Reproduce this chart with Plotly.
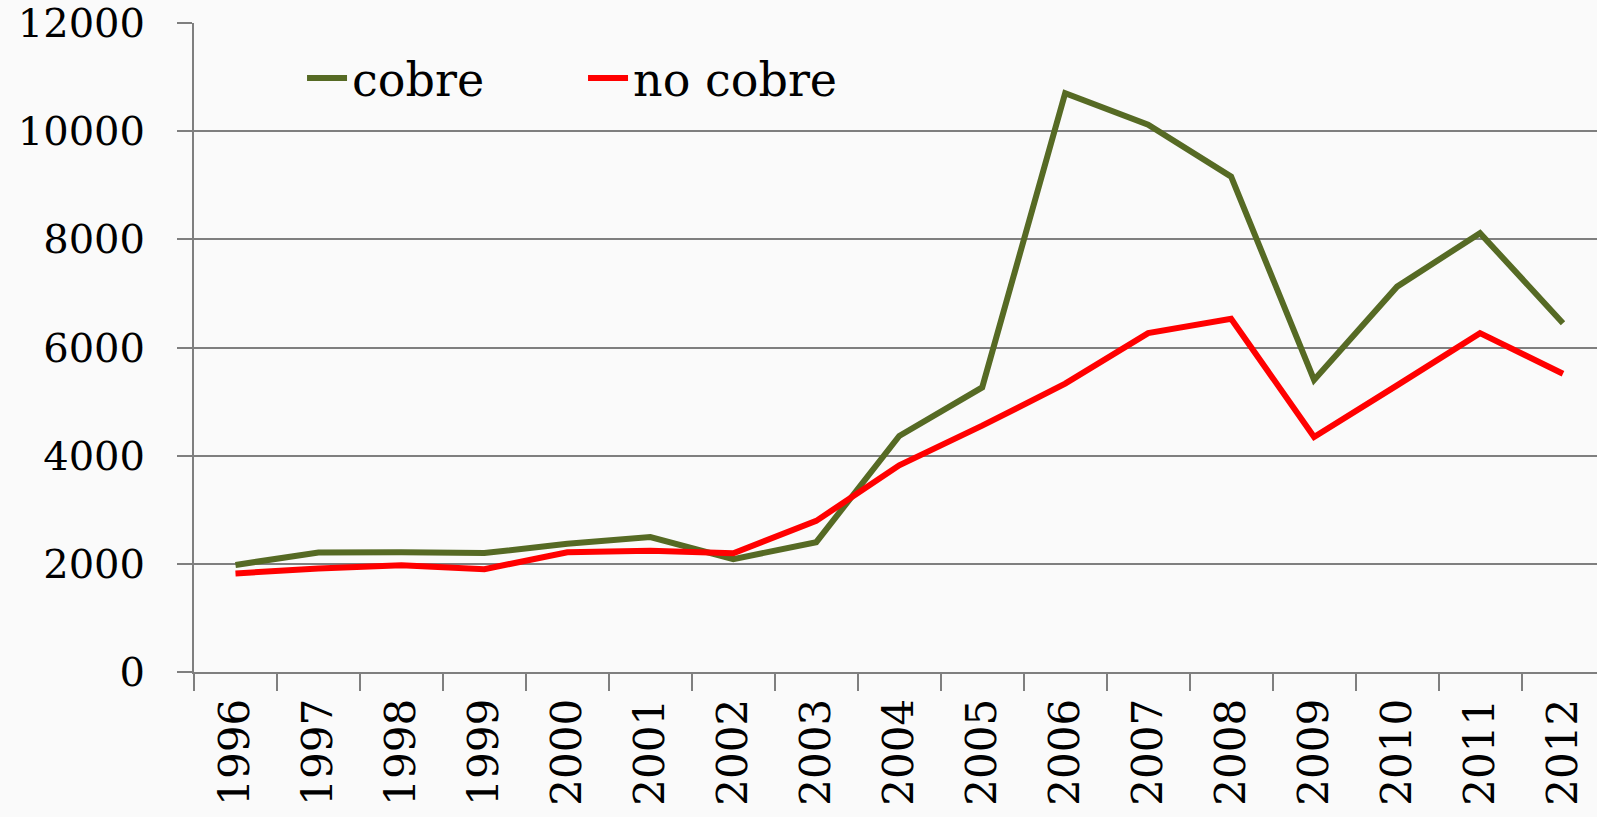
import plotly.graph_objects as go

years = ["1996", "1997", "1998", "1999", "2000", "2001", "2002", "2003", "2004",
         "2005", "2006", "2007", "2008", "2009", "2010", "2011", "2012"]
cobre = [1980, 2210, 2215, 2200, 2370, 2495, 2088, 2400, 4365,
         5262, 10700, 10120, 9160, 5400, 7125, 8115, 6450]
no_cobre = [1822, 1915, 1976, 1902, 2215, 2240, 2195, 2794, 3823,
            4555, 5332, 6266, 6532, 4346, 5300, 6266, 5516]
y_ticks = [0, 2000, 4000, 6000, 8000, 10000, 12000]

FONT = "DejaVu Serif"
GREEN = "#566A24"
RED = "#FF0000"
GRID = "#7F7F7F"

fig = go.Figure()
fig.add_trace(go.Scatter(x=years, y=cobre, mode="lines", name="cobre",
                         line=dict(color=GREEN, width=6)))
fig.add_trace(go.Scatter(x=years, y=no_cobre, mode="lines", name="no cobre",
                         line=dict(color=RED, width=6)))

fig.update_layout(
    width=1597, height=817,
    margin=dict(l=194, r=0, t=23, b=145),
    paper_bgcolor="#FAFAFA", plot_bgcolor="#FAFAFA",
    font=dict(family=FONT, size=40, color="#000000"),
    showlegend=True,
    legend=dict(orientation="h", x=0.077, y=0.915, xanchor="left", yanchor="middle",
                bgcolor="rgba(0,0,0,0)", font=dict(family=FONT, size=46),
                itemwidth=40, entrywidth=226, entrywidthmode="pixels",
                tracegroupgap=0),
)
fig.update_xaxes(
    type="category", range=[-0.5, 16.41],
    tickangle=-90, tickson="boundaries", ticks="outside", ticklen=17,
    tickcolor=GRID, tickwidth=2,
    showline=True, linecolor=GRID, linewidth=2,
    showgrid=False, zeroline=False,
    tickfont=dict(family=FONT, size=42), ticklabelstandoff=8,
)
fig.update_yaxes(
    range=[0, 12000], tickvals=y_ticks, ticktext=[str(v) for v in y_ticks],
    ticks="outside", ticklen=15, tickcolor=GRID, tickwidth=2,
    showline=True, linecolor=GRID, linewidth=2,
    showgrid=True, gridcolor=GRID, gridwidth=2, zeroline=False,
    tickfont=dict(family=FONT, size=40), ticklabelstandoff=24,
)

fig.write_html("out.html", config={"displayModeBar": False},
               post_script="document.body.style.margin='0';document.body.style.overflow='hidden';")
